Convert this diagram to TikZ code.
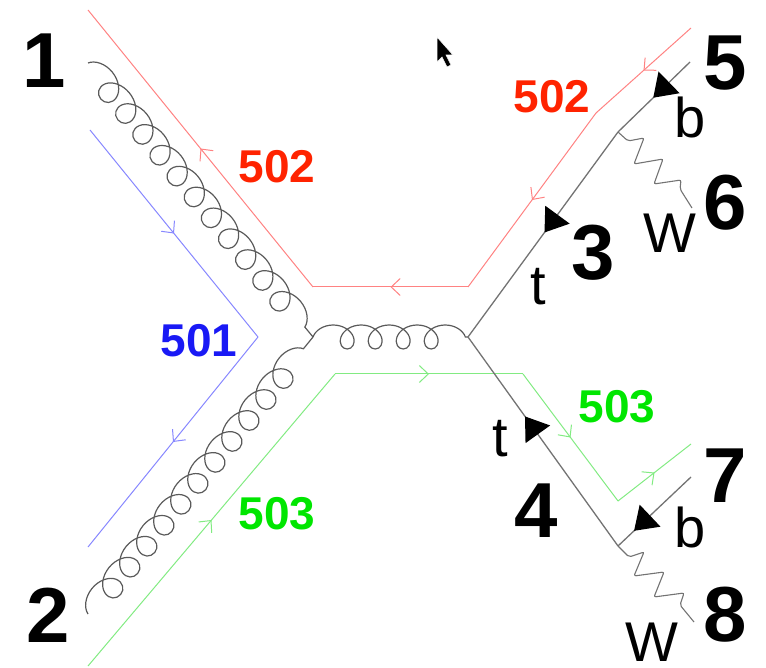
\documentclass[tikz,border=0pt]{standalone}
\usepackage{fontspec}
\setmainfont{Liberation Sans}
\usetikzlibrary{decorations.pathmorphing,decorations.markings,arrows.meta}
\definecolor{redline}{RGB}{255,130,130}
\definecolor{blueline}{RGB}{135,135,255}
\definecolor{greenline}{RGB}{130,235,130}
\definecolor{redtext}{RGB}{255,35,0}
\definecolor{bluetext}{RGB}{25,25,245}
\definecolor{greentext}{RGB}{0,230,0}
\definecolor{quark}{RGB}{115,115,115}
\definecolor{gluoncol}{RGB}{90,90,90}
\begin{document}
\begin{tikzpicture}[x=1pt,y=-1pt,
  flow/.style={draw=#1,line width=1pt,postaction={decorate},
    decoration={markings,mark=at position 0.5 with {\arrow{Straight Barb[length=9pt,width=17pt,color=#1]}}}},
  qline/.style={draw=quark,line width=1.3pt},
  qarrow/.style={postaction={decorate},
    decoration={markings,mark=at position #1 with {\arrow{Triangle[length=22pt,width=30pt,color=black,fill=black]}}}},
  gluon/.style={draw=gluoncol,line width=1.2pt,decorate,
    decoration={coil,aspect=1.2,segment length=#1,amplitude=13pt}},
  hgluon/.style={draw=gluoncol,line width=1.2pt,decorate,
    decoration={coil,aspect=1.1,segment length=28pt,amplitude=12pt}},
  wboson/.style={draw=quark,line width=1.1pt,rounded corners=2pt},
  num/.style={anchor=base,inner sep=0pt,font=\fontsize{78}{78}\selectfont\bfseries},
  col/.style={anchor=base,inner sep=0pt,text=#1,font=\fontsize{46}{46}\selectfont\bfseries},
  part/.style={anchor=base,inner sep=0pt,font=\fontsize{56}{56}\selectfont}
]
\useasboundingbox (0,0) rectangle (766,668);
% vertices
\coordinate (v1) at (313,337);
\coordinate (v2) at (468,337);
\coordinate (e1) at (88,63);
\coordinate (e2) at (88,614);
\coordinate (w3) at (618,132);
\coordinate (e5) at (690,62);
\coordinate (e6) at (692,208);
\coordinate (w4) at (618,546);
\coordinate (e7) at (691,477);
\coordinate (e8) at (694,622);
% colour flow corners
\coordinate (r0) at (691,28);
\coordinate (r1) at (596,113);
\coordinate (r2) at (468,287);
\coordinate (r3) at (313,287);
\coordinate (r4) at (88,10);
\coordinate (b0) at (90,130);
\coordinate (b1) at (258,337);
\coordinate (b2) at (88,547);
\coordinate (g0) at (88,666);
\coordinate (g1) at (335,374);
\coordinate (g2) at (523,374);
\coordinate (g3) at (618,501);
\coordinate (g4) at (691,444);
% colour lines
\draw[flow=redline] (r0) -- (r1);
\draw[flow=redline] (r1) -- (r2);
\draw[flow=redline] (r2) -- (r3);
\draw[flow=redline] (r3) -- (r4);
\draw[flow=blueline] (b0) -- (b1);
\draw[flow=blueline] (b1) -- (b2);
\draw[flow=greenline] (g0) -- (g1);
\draw[flow=greenline] (g1) -- (g2);
\draw[flow=greenline] (g2) -- (g3);
\draw[flow=greenline] (g3) -- (g4);
% gluons
\draw[gluon=27pt] (e1) -- (v1);
\draw[gluon=27pt] (e2) -- (v1);
\draw[hgluon] (v1) -- (v2);
% quarks
\draw[qline,qarrow=0.49] (w3) -- (v2);
\draw[qline,qarrow=0.51] (e5) -- (w3);
\draw[qline,qarrow=0.62] (w4) -- (v2);
\draw[qline,qarrow=0.78] (e7) -- (w4);
% W bosons
\draw[wboson] (w3) -- +(10,9) -- +(26,6) -- +(16,32) -- +(45,27) -- +(36,52) -- +(63,48) -- +(62,57) -- (e6);
\draw[wboson] (w4) -- +(11,11) -- +(26,6) -- +(16,30) -- +(46,26) -- +(36,51) -- +(66,47) -- +(62,59) -- (e8);
% cursor
\filldraw[fill=black,draw=white,line width=0.6pt] (437,37) -- (437,62) -- (442,57) -- (447,67) -- (451,65) -- (446,55) -- (453,55) -- cycle;
% labels
\node[num] (n1) at (44,88) {1};
\node[num] (n2) at (48,642) {2};
\node[num] (n3) at (593,280) {3};
\node[num] (n4) at (536,537) {4};
\node[num] (n5) at (725,90) {5};
\node[num] (n6) at (725,230) {6};
\node[num] (n7) at (725,502) {7};
\node[num] (n8) at (725,641) {8};
\node[col=redtext] (c502a) at (277,183) {502};
\node[col=redtext] (c502b) at (552,113) {502};
\node[col=bluetext] (c501) at (199,356) {501};
\node[col=greentext] (c503a) at (277,529) {503};
\node[col=greentext] (c503b) at (617,422) {503};
\node[part] (lb1) at (690,138) {b};
\node[part] (lw1) at (670,253) {W};
\node[part] (lt1) at (538,305) {t};
\node[part] (lt2) at (500,456) {t};
\node[part] (lb2) at (690,547) {b};
\node[part] (lw2) at (652,661) {W};
\end{tikzpicture}
\end{document}
